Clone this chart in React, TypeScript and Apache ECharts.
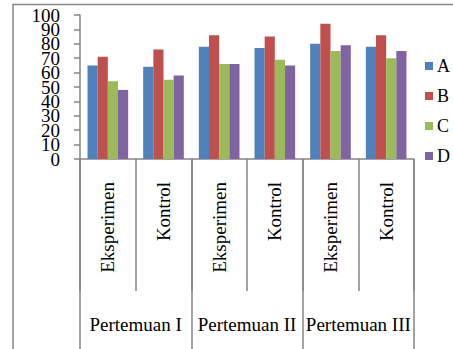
import React, { useEffect, useRef } from "react";
import * as echarts from "echarts";

const subCategories = ["Eksperimen", "Kontrol", "Eksperimen", "Kontrol", "Eksperimen", "Kontrol"];
const groups = ["Pertemuan I", "Pertemuan II", "Pertemuan III"];
const yTickLabels = ["0", "10", "20", "30", "40", "50", "60", "70", "80", "90", "100"];
const seriesNames = ["A", "B", "C", "D"];
const valuesA = [65, 64, 78, 77, 80, 78];
const valuesB = [71, 76, 86, 85, 94, 86];
const valuesC = [54, 55, 66, 69, 75, 70];
const valuesD = [48, 58, 66, 65, 79, 75];
const colors = ["#4F81BD", "#C0504D", "#9BBB59", "#8064A2"];

const FONT = "'Liberation Serif', 'Times New Roman', serif";
const GRAY = "#868686";

export default function App() {
  const ref = useRef<HTMLDivElement>(null);
  useEffect(() => {
    if (!ref.current) return;
    const chart = echarts.init(ref.current, undefined, { renderer: "svg" });
    const data = [valuesA, valuesB, valuesC, valuesD];
    chart.setOption({
      animation: false,
      backgroundColor: "#ffffff",
      textStyle: { fontFamily: FONT, color: "#000" },
      graphic: [
        {
          type: "polyline",
          shape: { points: [[13, 360], [13, 4.5], [460, 4.5]] },
          style: { stroke: GRAY, lineWidth: 1.5, fill: "none" },
          silent: true,
        },
      ],
      grid: { left: 80, right: 39, top: 15, bottom: 190, containLabel: false, outerBoundsMode: "none" },
      legend: {
        orient: "vertical",
        left: 425,
        top: 57,
        padding: 0,
        itemWidth: 8,
        itemHeight: 8,
        itemGap: 12,
        icon: "rect",
        data: seriesNames,
        textStyle: { fontFamily: FONT, fontSize: 18, color: "#000", padding: [0, 0, 0, -1] },
      },
      xAxis: [
        {
          type: "category",
          data: subCategories,
          position: "bottom",
          axisLine: { show: true, onZero: false, lineStyle: { color: GRAY, width: 1.5 } },
          axisTick: { show: true, length: 132, lineStyle: { color: GRAY, width: 1.5 } },
          axisLabel: {
            rotate: 90,
            margin: 23,
            interval: 0,
            fontFamily: FONT,
            fontSize: 19,
            color: "#000",
          },
        },
        {
          type: "category",
          data: groups,
          position: "bottom",
          axisLine: { show: false, onZero: false },
          axisTick: { show: true, length: 200, lineStyle: { color: GRAY, width: 1.5 } },
          axisLabel: {
            margin: 156,
            interval: 0,
            fontFamily: FONT,
            fontSize: 19,
            color: "#000",
          },
        },
      ],
      yAxis: [
        {
          type: "value",
          min: 0,
          max: 100,
          interval: 10,
          splitLine: { show: false },
          axisLine: { show: true, onZero: false, lineStyle: { color: GRAY, width: 1.5 } },
          axisTick: { show: true, length: 6, lineStyle: { color: GRAY, width: 1.5 } },
          axisLabel: { show: false },
        },
        {
          type: "category",
          data: yTickLabels,
          boundaryGap: false,
          position: "left",
          splitLine: { show: false },
          axisLine: { show: false, onZero: false },
          axisTick: { show: false },
          axisLabel: {
            interval: 0,
            margin: 20,
            fontFamily: FONT,
            fontSize: 19,
            lineHeight: 14,
            color: "#000",
          },
        },
      ],
      series: seriesNames.map((name, i) => ({
        name,
        type: "bar",
        xAxisIndex: 0,
        yAxisIndex: 0,
        data: data[i],
        barGap: "0%",
        barCategoryGap: "27%",
        itemStyle: { color: colors[i] },
      })),
    });
    return () => chart.dispose();
  }, []);
  return <div ref={ref} style={{ width: 453, height: 349, position: "absolute", left: 0, top: 0 }} />;
}
